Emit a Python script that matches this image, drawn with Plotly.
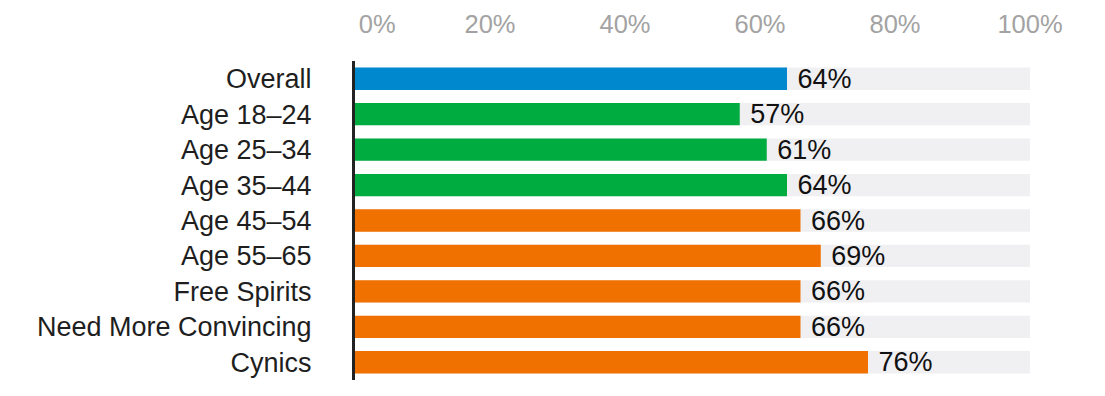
import plotly.graph_objects as go

categories = ["Overall", "Age 18–24", "Age 25–34", "Age 35–44", "Age 45–54",
              "Age 55–65", "Free Spirits", "Need More Convincing", "Cynics"]
values = [64, 57, 61, 64, 66, 69, 66, 66, 76]
colors = ["#0088cf", "#00ab3f", "#00ab3f", "#00ab3f", "#f07100",
          "#f07100", "#f07100", "#f07100", "#f07100"]
background = [100] * len(categories)
tick_vals = [3.3, 20, 40, 60, 80, 100]
tick_text = ["0%", "20%", "40%", "60%", "80%", "100%"]

FONT = "Liberation Sans"

fig = go.Figure()
fig.add_trace(go.Bar(
    y=categories, x=background, orientation="h",
    marker=dict(color="#f0f0f2", line=dict(width=0)),
    width=0.63, hoverinfo="skip", showlegend=False,
))
fig.add_trace(go.Bar(
    y=categories, x=values, orientation="h",
    marker=dict(color=colors, line=dict(width=0)),
    width=0.63,
    text=[f"\u00a0{v}%" for v in values], textposition="outside",
    constraintext="none",
    textfont=dict(family=FONT, size=27, color="#111111"),
    cliponaxis=False, showlegend=False,
))

# page body has an 8px default margin, so the figure is sized to fit the window
fig.update_layout(
    width=1097, height=388,
    margin=dict(l=347, r=75, t=53, b=16, autoexpand=False),
    barmode="overlay",
    plot_bgcolor="white", paper_bgcolor="white",
    font=dict(family=FONT),
    xaxis=dict(
        range=[0, 100], side="top", automargin=False,
        tickvals=tick_vals, ticktext=tick_text,
        tickfont=dict(family=FONT, size=25.5, color="#a3a3a3"),
        ticks="outside", ticklen=17, tickcolor="rgba(0,0,0,0)",
        showgrid=False, zeroline=False, showline=False,
        fixedrange=True,
    ),
    yaxis=dict(
        categoryorder="array", categoryarray=categories,
        autorange="reversed", automargin=False,
        tickfont=dict(family=FONT, size=27, color="#1e1e1e"),
        ticks="", ticklabelstandoff=35,
        showline=True, linecolor="#222222", linewidth=3,
        showgrid=False, zeroline=False,
        fixedrange=True,
    ),
)

fig.write_html("out.html")
